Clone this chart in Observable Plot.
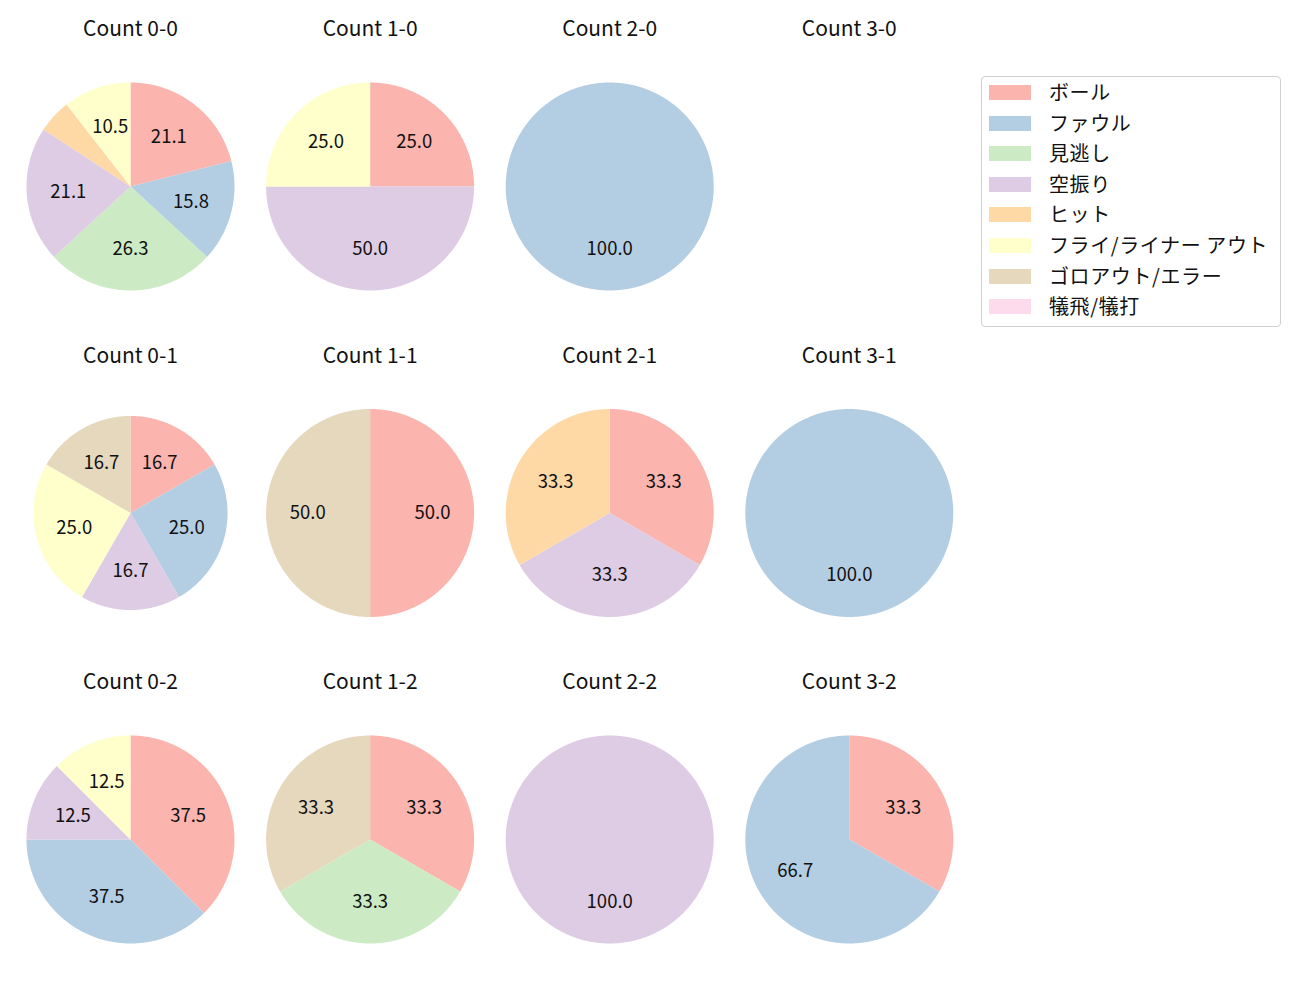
<!DOCTYPE html>
<html><head><meta charset="utf-8">
<script src="https://cdn.jsdelivr.net/npm/d3@7"></script>
<script src="https://cdn.jsdelivr.net/npm/@observablehq/plot@0.6"></script>
<style>
body{margin:0;background:#fff;font-family:"Noto Sans CJK JP","Noto Sans",sans-serif;}
#wrap{position:relative;width:1300px;height:1000px;}
#legend{position:absolute;left:981px;top:76px;width:300px;height:251px;border:1px solid #d0d0d0;border-radius:4px;box-sizing:border-box;background:#fff;}
.row{position:absolute;left:0;height:30px;width:100%;}
.sw{position:absolute;left:7px;top:0;width:42px;height:15px;}
.lb{position:absolute;left:67px;font-size:20px;line-height:24px;color:#111;white-space:nowrap;letter-spacing:0.6px;}
</style></head>
<body><div id="wrap"></div>
<script>
// categories and colours
const categories = ["ボール","ファウル","見逃し","空振り","ヒット","フライ/ライナー アウト","ゴロアウト/エラー","犠飛/犠打"];
const colors = ["#fbb4ae","#b3cde3","#ccebc5","#decbe4","#fed9a6","#ffffcc","#e5d8bd","#fddaec"];
// counts per ball-strike situation (same order as categories)
const count00 = [4,3,5,4,1,2,0,0];
const count10 = [1,0,0,2,0,1,0,0];
const count20 = [0,1,0,0,0,0,0,0];
const count30 = [0,0,0,0,0,0,0,0];
const count01 = [2,3,0,2,0,3,2,0];
const count11 = [1,0,0,0,0,0,1,0];
const count21 = [1,0,0,1,1,0,0,0];
const count31 = [0,1,0,0,0,0,0,0];
const count02 = [3,3,0,1,0,1,0,0];
const count12 = [1,0,1,0,0,0,1,0];
const count22 = [0,0,0,1,0,0,0,0];
const count32 = [1,2,0,0,0,0,0,0];
const pies = [
  {balls:0,strikes:0,values:count00},{balls:1,strikes:0,values:count10},{balls:2,strikes:0,values:count20},{balls:3,strikes:0,values:count30},
  {balls:0,strikes:1,values:count01},{balls:1,strikes:1,values:count11},{balls:2,strikes:1,values:count21},{balls:3,strikes:1,values:count31},
  {balls:0,strikes:2,values:count02},{balls:1,strikes:2,values:count12},{balls:2,strikes:2,values:count22},{balls:3,strikes:2,values:count32}
];

// layout (pixels)
const W = 1300, H = 1000;
const R = 104, colStep = 239.6, rowStep = 326.5, cx0 = 130, cy0 = 186, titleOff = 157;
const radiusFactor = (b, s) => (b === 0 && s === 1 ? 0.933 : 1);

const wedgePts = [];
const labels = [];
const titles = [];
for (const p of pies) {
  const cx = p.balls * colStep / R, cy = p.strikes * rowStep / R;
  titles.push({x: cx, y: cy - titleOff / R, text: `Count ${p.balls}-${p.strikes}`});
  const total = d3.sum(p.values);
  if (!total) continue;
  const rf = radiusFactor(p.balls, p.strikes);
  const items = p.values.map((v, i) => ({v, cat: categories[i]}));
  const arcs = d3.pie().sort(null).value(d => d.v)(items);
  arcs.forEach((a, k) => {
    if (a.data.v <= 0) return;
    const id = `${p.balls}-${p.strikes}-${k}`;
    const steps = Math.max(2, Math.ceil((a.endAngle - a.startAngle) / (Math.PI / 360)));
    wedgePts.push({id, cat: a.data.cat, x: cx, y: cy});
    for (let i = 0; i <= steps; i++) {
      const t = a.startAngle + (a.endAngle - a.startAngle) * i / steps;
      wedgePts.push({id, cat: a.data.cat, x: cx + rf * Math.sin(t), y: cy - rf * Math.cos(t)});
    }
    wedgePts.push({id, cat: a.data.cat, x: cx, y: cy});
    const pct = 100 * a.data.v / total;
    if (pct >= 6) {
      const m = (a.startAngle + a.endAngle) / 2;
      labels.push({x: cx + 0.6 * rf * Math.sin(m), y: cy - 0.6 * rf * Math.cos(m), text: pct.toFixed(1)});
    }
  });
}

const chart = Plot.plot({
  width: W, height: H,
  margin: 0, marginTop: 0, marginBottom: 0, marginLeft: 0, marginRight: 0,
  x: {domain: [-cx0 / R, (W - cx0) / R], axis: null},
  y: {domain: [-cy0 / R, (H - cy0) / R], reverse: true, axis: null},
  color: {domain: categories, range: colors},
  style: {fontFamily: '"Noto Sans CJK JP","Noto Sans",sans-serif', background: "#fff"},
  marks: [
    Plot.line(wedgePts, {x: "x", y: "y", z: "id", fill: "cat", stroke: null, curve: "linear"}),
    Plot.text(labels, {x: "x", y: "y", text: "text", fontSize: 18.5, fill: "#111"}),
    Plot.text(titles, {x: "x", y: "y", text: "text", fontSize: 21, fill: "#111"})
  ]
});
const wrap = document.getElementById("wrap");
wrap.appendChild(chart);

const legend = document.createElement("div");
legend.id = "legend";
categories.forEach((c, i) => {
  const row = document.createElement("div");
  row.className = "row";
  row.style.top = (8 + i * 30.6) + "px";
  const sw = document.createElement("div");
  sw.className = "sw"; sw.style.background = colors[i];
  const lb = document.createElement("div");
  lb.className = "lb"; lb.style.top = "-5px"; lb.textContent = c;
  row.appendChild(sw); row.appendChild(lb);
  legend.appendChild(row);
});
wrap.appendChild(legend);
</script>
</body></html>
